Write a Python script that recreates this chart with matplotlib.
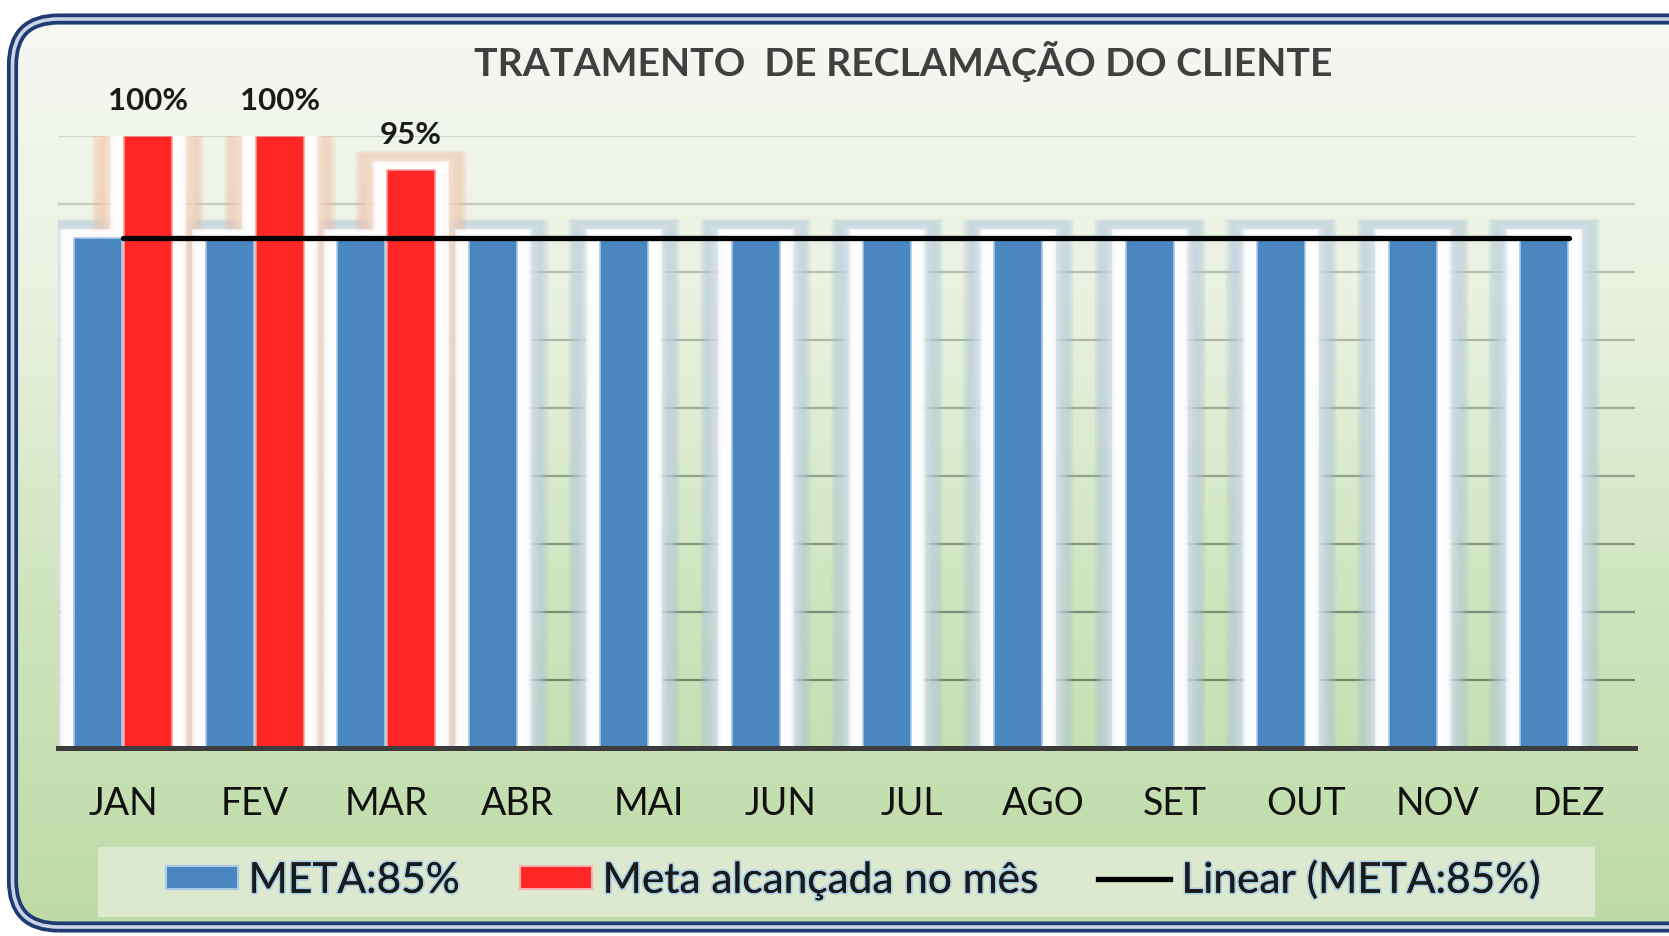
import numpy as np
import matplotlib.pyplot as plt
from matplotlib.patches import FancyBboxPatch, Rectangle, Patch
from matplotlib.lines import Line2D
from matplotlib.colors import LinearSegmentedColormap, to_rgb
from matplotlib.transforms import IdentityTransform
import matplotlib.patheffects as pe

meses = ['JAN', 'FEV', 'MAR', 'ABR', 'MAI', 'JUN', 'JUL', 'AGO', 'SET', 'OUT', 'NOV', 'DEZ']
meta = [0.85] * 12
alcancada = [1.00, 1.00, 0.95, 0, 0, 0, 0, 0, 0, 0, 0, 0]
titulo = 'TRATAMENTO  DE RECLAMAÇÃO DO CLIENTE'
nomes = ['META:85%', 'Meta alcançada no mês', 'Linear (META:85%)']

plt.rcParams['font.family'] = ['Lato', 'DejaVu Sans']

AZUL = '#4a87c0'
VERMELHO = '#ff2626'

W, H = 1669, 936
fig = plt.figure(figsize=(W / 100, H / 100), dpi=100)
fig.patch.set_facecolor('white')

# fundo: coordenadas em pixels da imagem (origem embaixo)
pix = IdentityTransform()
bg = fig.add_axes([0, 0, 1, 1])
bg.axis('off')
cmap = LinearSegmentedColormap.from_list('fundo', [(0, '#f6f8f3'), (0.3, '#eaf2e2'),
                                                   (0.65, '#cfe4bd'), (1, '#bedaa6')])
grad = np.linspace(0, 1, 256).reshape(-1, 1)
img = bg.imshow(grad, cmap=cmap, extent=(0, 1, 0, 1), transform=bg.transAxes,
                aspect='auto', zorder=0)
caixa = dict(boxstyle='round,pad=0,rounding_size=46', facecolor='none', transform=pix)
x0, x1, y0, y1 = 12.5, 1720, H - 927, H - 19
moldura = FancyBboxPatch((x0, y0), x1 - x0, y1 - y0, edgecolor='#1f3b72', lw=8,
                         zorder=2, **caixa)
bg.add_patch(moldura)
img.set_clip_path(moldura)
bg.add_patch(FancyBboxPatch((x0, y0), x1 - x0, y1 - y0, edgecolor='#c9d5e6', lw=2.6,
                            zorder=3, **caixa))
bg.add_patch(Rectangle((98, H - 917), 1595 - 98, 917 - 847, facecolor='#dce9cf',
                       edgecolor='none', zorder=1, transform=pix))

# grafico
ax = fig.add_axes([57.5 / W, 1 - 747.7 / H, (1635 - 57.5) / W, (747.7 - 135.7) / H])
ax.patch.set_alpha(0)
x = np.arange(len(meses))
w = 0.365
ax.set_xlim(-0.5, len(meses) - 0.5)
ax.set_ylim(0.1, 1.0)

px_x = 1 / 131.5   # unidades de categoria por pixel
px_y = 1 / 680     # unidades de valor por pixel

# linhas de grade
grade = np.arange(0.2, 1.01, 0.1)
for g in grade:
    a = 0.62 - 0.45 * (g - 0.2) / 0.8
    ax.axhline(g, color='#3d4a3a', alpha=a, lw=1.6, zorder=0.5)


def brilho(xs, hs, tom):
    tom = np.array(to_rgb(tom))
    for xi, h in zip(xs, hs):
        if h <= 0.1:
            continue
        # borda difusa colorida
        for r in np.linspace(32, 14, 18):
            f = (r - 14) / 18
            cor = tom * f + np.ones(3) * (1 - f)
            ax.bar(xi, h + 0.6 * r * px_y, width=w + 2 * r * px_x, color=cor,
                   alpha=0.1, lw=0, zorder=1)
        # nucleo branco
        for r in np.linspace(14, 8, 5):
            ax.bar(xi, h + 0.6 * r * px_y, width=w + 2 * r * px_x, color='white',
                   alpha=0.55, lw=0, zorder=1.1)


brilho(x - 0.19, meta, '#9fb9d2')
brilho(x + 0.19, alcancada, '#f0b48e')

ax.bar(x - 0.19, meta, width=w, color=AZUL, edgecolor='#a9c9e8', lw=1.2, zorder=2)
ax.bar(x + 0.19, alcancada, width=w, color=VERMELHO, edgecolor='#ff9c9c', lw=1.2, zorder=2)

coef = np.polyfit(x, meta, 1)
ax.plot(x, np.polyval(coef, x), color='black', lw=3.8, solid_capstyle='round', zorder=3)

for xi, v in zip(x, alcancada):
    if v > 0:
        ax.annotate(f'{v:.0%}', (xi + 0.19, v), xytext=(0, 25), textcoords='offset points',
                    ha='center', va='center', fontsize=22.5, fontweight='bold',
                    color='#1a1a1a', annotation_clip=False)

ax.set_yticks([])
ax.set_xticks(x)
ax.set_xticklabels(meses, fontsize=27, color='#111111')
ax.tick_params(axis='x', length=0, pad=27.5)
for s in ['left', 'right', 'top']:
    ax.spines[s].set_visible(False)
ax.spines['bottom'].set_color('#3c3c3c')
ax.spines['bottom'].set_linewidth(3.6)
ax.spines['bottom'].set_zorder(4)

fig.text(903 / W, 1 - 61 / H, titulo, ha='center', va='center', fontsize=28.2,
         fontweight='bold', color='#404040')

handles = [Patch(facecolor=AZUL, edgecolor='#a9c9e8', lw=1.5),
           Patch(facecolor=VERMELHO, edgecolor='#ffb0b0', lw=1.5),
           Line2D([0], [0], color='black', lw=3.8)]
leg = fig.legend(handles, nomes, loc='center', bbox_to_anchor=(853 / W, 1 - 880 / H),
                 ncol=3, frameon=False, fontsize=30.5, handlelength=1.7,
                 handleheight=0.45, handletextpad=0.26, columnspacing=1.41)
for t in leg.get_texts():
    t.set_color('#1a1a1a')
    t.set_path_effects([pe.withStroke(linewidth=2.5, foreground='#a8cde4'), pe.Normal()])

fig.savefig('out.png', dpi=100, facecolor='white')
